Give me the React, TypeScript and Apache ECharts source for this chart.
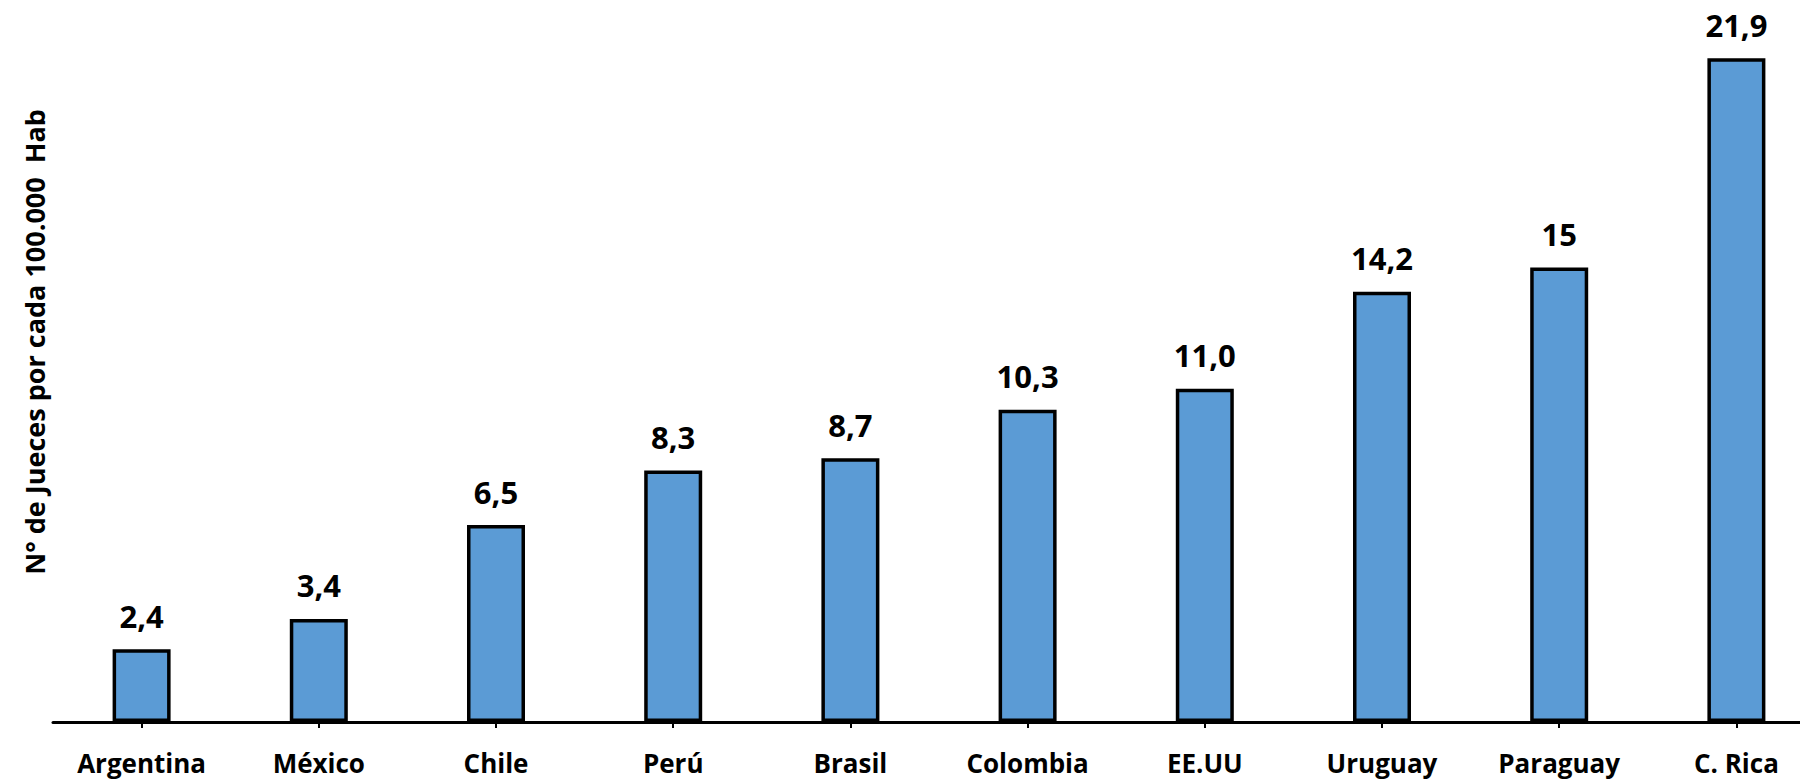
import React, { useEffect, useRef } from "react";
import * as echarts from "echarts";

const categories = ["Argentina", "México", "Chile", "Perú", "Brasil", "Colombia", "EE.UU", "Uruguay", "Paraguay", "C. Rica"];
const values = [2.4, 3.4, 6.5, 8.3, 8.7, 10.3, 11.0, 14.2, 15, 21.9];
const valueLabels = ["2,4", "3,4", "6,5", "8,3", "8,7", "10,3", "11,0", "14,2", "15", "21,9"];
const yTitle = "N° de Jueces por cada 100.000  Hab";

const FONT = "'Open Sans', sans-serif";

export default function App() {
  const ref = useRef<HTMLDivElement>(null);
  useEffect(() => {
    if (!ref.current) return;
    const chart = echarts.init(ref.current, null, { renderer: "svg" });
    chart.setOption({
      animation: false,
      backgroundColor: "#ffffff",
      grid: { left: 53, width: 1772, top: 25, bottom: 59, containLabel: false, outerBoundsMode: "none" },
      xAxis: {
        type: "category",
        data: categories,
        boundaryGap: true,
        axisLine: { show: true, lineStyle: { color: "#000000", width: 3 } },
        axisTick: { show: true, alignWithLabel: true, length: 6, lineStyle: { color: "#000000", width: 2 } },
        axisLabel: {
          interval: 0,
          margin: 28,
          color: "#000000",
          fontFamily: FONT,
          fontWeight: "bold",
          fontSize: 26,
        },
      },
      yAxis: {
        type: "value",
        min: 0,
        max: 23,
        show: false,
        splitLine: { show: false },
      },
      series: [
        {
          type: "bar",
          data: values,
          barWidth: 58,
          itemStyle: { color: "#5B9BD5", borderColor: "#000000", borderWidth: 3.5 },
          label: {
            show: true,
            position: "top",
            distance: 18,
            color: "#000000",
            fontFamily: FONT,
            fontWeight: "bold",
            fontSize: 31,
            formatter: (p: any) => valueLabels[p.dataIndex],
          },
        },
      ],
      graphic: [
        {
          type: "text",
          x: 34,
          y: 342,
          rotation: Math.PI / 2,
          style: {
            text: yTitle,
            fill: "#000000",
            font: `bold 27px ${FONT}`,
            textAlign: "center",
            textVerticalAlign: "middle",
          },
        },
      ],
    });
    return () => chart.dispose();
  }, []);
  return (
    <div
      ref={ref}
      style={{ position: "fixed", left: 0, top: 0, width: 1800, height: 781, background: "#fff" }}
    />
  );
}
